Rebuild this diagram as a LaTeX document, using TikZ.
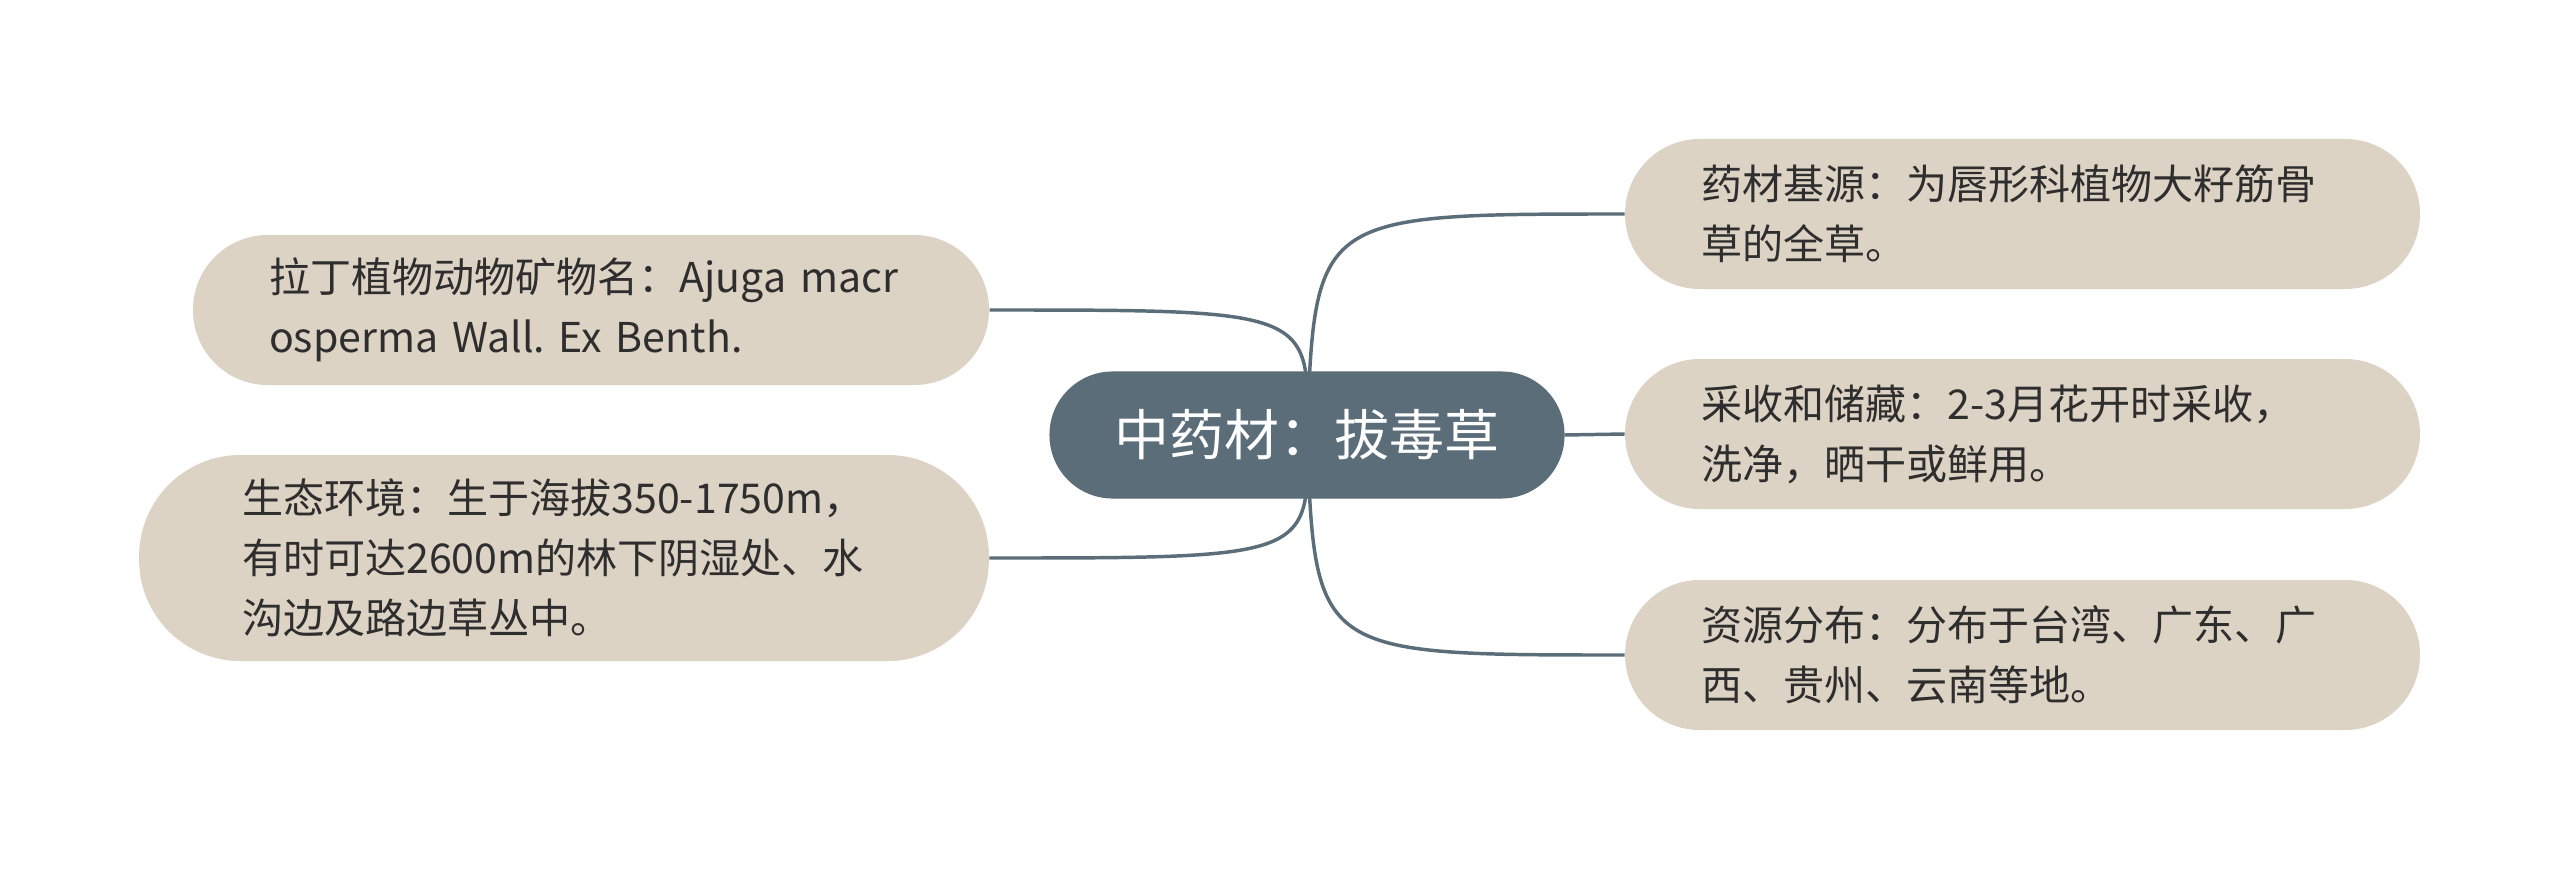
\documentclass[tikz,border=0pt]{standalone}
\usepackage{fontspec}
\setmainfont{Noto Sans CJK SC}
\usetikzlibrary{backgrounds}
\definecolor{hub}{HTML}{5A6D79}
\definecolor{leaffill}{HTML}{DDD3C4}
\definecolor{txt}{HTML}{2E2E2E}
\frenchspacing
\tikzset{
  hubnode/.style={fill=hub, draw=hub, text=white, rounded corners=23.5pt,
    minimum width=192.75pt, minimum height=47.25pt, inner sep=0pt,
    font=\fontsize{20.6pt}{24pt}\selectfont},
  leaf/.style={fill=leaffill, draw=none, text=txt, align=left,
    minimum height=56.25pt, rounded corners=28pt, inner ysep=0pt,
    font=\fontsize{15.4pt}{22.5pt}\selectfont},
  link/.style={draw=hub, line width=1.3pt}
}
\begin{document}
\begin{tikzpicture}[x=0.375pt,y=-0.375pt]
\useasboundingbox (0,0) rectangle (2560,870);
\node[hubnode] (c) at (1307,435) {中药材：拔毒草};
\node[leaf, inner xsep=28.5pt, text width=241.1pt] (r1) at (2022.5,214)
  {\mbox{药材基源：为唇形科植物大籽筋骨}\\\mbox{草的全草。}};
\node[leaf, inner xsep=28.5pt, text width=241.1pt] (r2) at (2022.5,434)
  {\mbox{采收和储藏：2-3月花开时采收，}\\\mbox{洗净，晒干或鲜用。}};
\node[leaf, inner xsep=28.5pt, text width=241.1pt] (r3) at (2022.5,655)
  {\mbox{资源分布：分布于台湾、广东、广}\\\mbox{西、贵州、云南等地。}};
\node[leaf, inner xsep=28.5pt, text width=241.5pt] (l1) at (591,310)
  {\mbox{拉丁植物动物矿物名：Ajuga macr}\\\mbox{osperma Wall. Ex Benth.}};
\node[leaf, inner xsep=38.6pt, text width=241.5pt, minimum height=77.25pt, rounded corners=38pt] (l2) at (564,558)
  {\mbox{生态环境：生于海拔350-1750m，}\\\mbox{有时可达2600m的林下阴湿处、水}\\\mbox{沟边及路边草丛中。}};
\begin{pgfonlayer}{background}
\draw[link] (c.center) .. controls (1315,214) .. (r1.west);
\draw[link] (c.east) -- (r2.west);
\draw[link] (c.center) .. controls (1315,655) .. (r3.west);
\draw[link] (c.center) .. controls (1310,310) .. (l1.east);
\draw[link] (c.center) .. controls (1310,558) .. (l2.east);
\end{pgfonlayer}
\end{tikzpicture}
\end{document}
